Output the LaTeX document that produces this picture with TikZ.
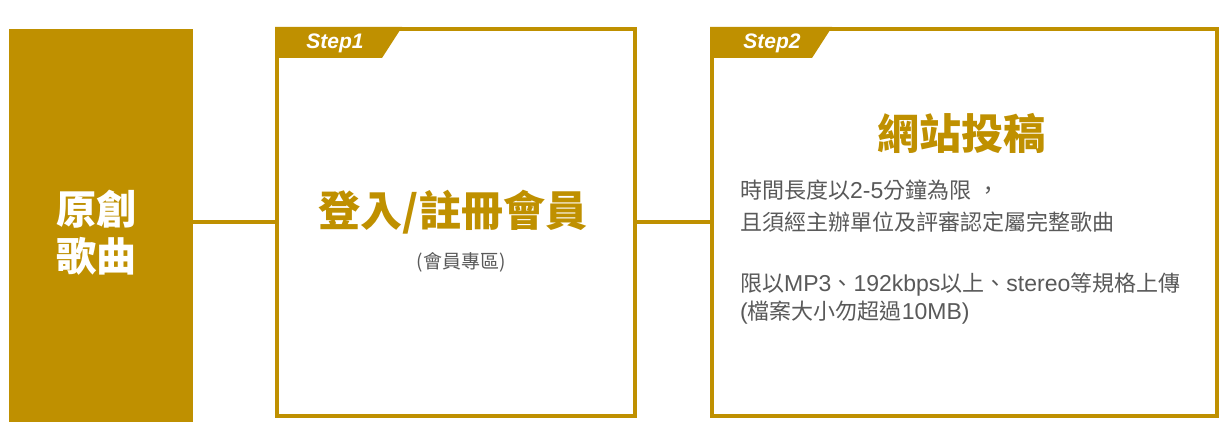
\documentclass[tikz,border=0pt]{standalone}
\usepackage{fontspec}
\setmainfont{Liberation Sans}
\newfontfamily\cjk{Noto Sans CJK TC}
\definecolor{gold}{RGB}{191,144,0}
\definecolor{txtgray}{RGB}{89,89,89}
\newcommand{\zh}[1]{{\fontsize{22}{26}\selectfont\cjk #1}}
\begin{document}
\begin{tikzpicture}[x=1pt,y=-1pt,
  frame/.style={draw=gold,line width=4pt},
  link/.style={draw=gold,line width=4pt},
  tab/.style={fill=gold},
  steplabel/.style={text=white,font=\fontsize{21}{24}\selectfont\bfseries\itshape,inner sep=0pt},
  title/.style={text=gold,font=\fontsize{42}{48}\selectfont\cjk\bfseries,inner sep=0pt},
  body/.style={text=txtgray,font=\fontsize{23}{26}\selectfont,inner sep=0pt,anchor=base west},
]
\useasboundingbox (0,0) rectangle (1220,422);
\fill[white] (0,0) rectangle (1220,422);
% left block
\fill[gold] (9,29) rectangle (193,422);
\coordinate (lb) at (193,222);
\node[text=white,font=\fontsize{40}{47}\selectfont\cjk\bfseries,align=center,inner sep=0pt] (orig) at (96,233) {原創\\歌曲};
% step1 box
\draw[frame] (277,29) rectangle (635,416);
\fill[tab] (275,27) -- (402,27) -- (382,58) -- (275,58) -- cycle;
\node[steplabel] (s1) at (335,43) {Step1};
\coordinate (b1l) at (277,222);
\coordinate (b1r) at (635,222);
\node[title] (t1) at (453,212) {登入/註冊會員};
\node[text=txtgray,font=\fontsize{19}{22}\selectfont\cjk,inner sep=0pt] (sub1) at (461,262) {(會員專區)};
% step2 box
\draw[frame] (712,29) rectangle (1217,416);
\fill[tab] (710,27) -- (832,27) -- (812,58) -- (710,58) -- cycle;
\node[steplabel] (s2) at (772,43) {Step2};
\coordinate (b2l) at (712,222);
\node[title] (t2) at (961,133) {網站投稿};
\node[body] (l1) at (740,198) {\zh{時間長度以}2-5\zh{分鐘為限}\hspace{6pt}\zh{，}};
\node[body] (l2) at (740,230) {\zh{且須經主辦單位及評審認定屬完整歌曲}};
\node[body] (l3) at (740,291) {\zh{限以}MP3\zh{、}192kbps\zh{以上、}stereo\zh{等規格上傳}};
\node[body] (l4) at (740,319) {(\zh{檔案大小勿超過}10MB)};
% connectors
\draw[link] (lb) -- (b1l);
\draw[link] (b1r) -- (b2l);
\end{tikzpicture}
\end{document}
